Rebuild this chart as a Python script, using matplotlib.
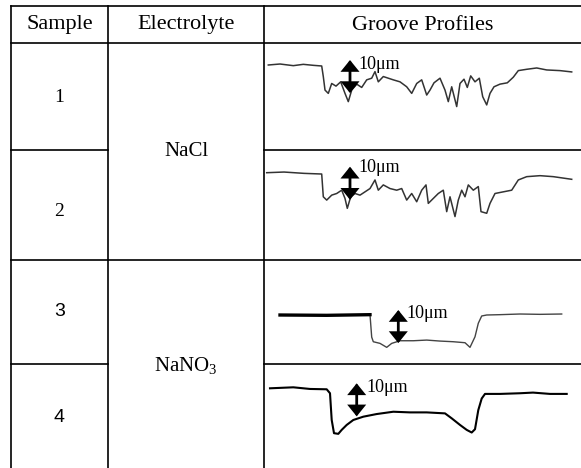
import matplotlib
matplotlib.use("Agg")
import matplotlib.pyplot as plt

plt.rcParams["mathtext.fontset"] = "custom"
plt.rcParams["mathtext.rm"] = "Liberation Serif"
plt.rcParams["mathtext.it"] = "Liberation Serif:italic"
plt.rcParams["mathtext.bf"] = "Liberation Serif:bold"

# ---------------- data ----------------
samples = ["1", "2", "3", "4"]
electrolytes = ["NaCl", "NaNO$_3$"]
headers = ["Sample", "Electrolyte", "Groove Profiles"]
scale_label = "10μm"
scale_um = 10

# lateral position (arbitrary units) and height (μm) of each groove profile
p1_pos = [4.3, 16, 29.3, 39.3, 49.3, 57.7, 59.3, 61, 64.3, 67.7, 72, 76.7, 81, 84.3, 87.7, 92.7,
          97.7, 102.7, 107.7, 111, 114.3, 119.3, 124.3, 129.3, 136, 142.7, 147.7, 152.7, 157.7,
          162.7, 166, 170, 176, 181, 184.3, 187.7, 192.7, 196, 200, 203.3, 206.7, 211, 215.3,
          218.7, 222.7, 226, 230, 236, 243.3, 249.3, 254.3, 262.7, 272.7, 282.7, 296, 307.7]
p1_h = [0, 0.3, -0.2, 0.2, -0.1, -0.3, -3.5, -7.6, -8.6, -5.6, -6.4, -5.1, -8.6, -11.1, -7.6, -5.8,
        -6.8, -4.5, -4.0, -2.0, -5.1, -3.5, -4.0, -4.5, -5.1, -6.6, -8.6, -5.6, -4.5,
        -9.1, -7.6, -5.4, -4.0, -7.6, -11.1, -6.6, -12.6, -5.6, -4.3, -6.8, -3.3, -5.1, -4.0,
        -9.6, -12.1, -8.6, -6.6, -5.8, -5.4, -3.7, -1.7, -1.3, -0.9, -1.5, -1.7, -2.1]

p2_pos = [2.7, 20, 40, 57.7, 59.3, 62.7, 67.7, 72.7, 77.7, 81, 83.3, 86.7, 91, 96, 101, 106, 111,
          114.3, 119.3, 126, 132.7, 137.7, 142.7, 147.7, 152.7, 157.7, 162, 164.3, 169.3, 174.3,
          179.3, 182.7, 186, 191, 194.3, 197.7, 201, 204.3, 209.3, 214.3, 217, 222.7, 226, 231,
          239.3, 247.7, 254.3, 262.7, 276, 289.3, 307.7]
p2_h = [0, 0.2, -0.2, -0.4, -7.3, -8.3, -6.8, -6.3, -5.3, -7.8, -10.8, -7.3, -6.3, -6.8, -5.8,
        -4.8, -2.2, -5.3, -3.7, -4.8, -5.3, -4.8, -8.3, -6.3, -8.8, -5.3, -3.7, -9.3, -7.8, -6.3,
        -5.3, -11.8, -7.3, -13.3, -8.3, -5.3, -7.3, -3.7, -5.3, -4.2, -11.8, -12.3, -9.3, -6.3,
        -5.8, -5.3, -2.2, -1.2, -0.9, -1.2, -2.0]

p3_pos = [16, 62.7, 106, 107.7, 109.3, 116, 122.7, 127.7, 136, 149.3, 162.7, 176, 189.3, 201,
          206, 211, 214.3, 217.7, 222.7, 236, 256, 276, 297.7]
p3_h = [0, -0.1, 0.1, -6.7, -8.1, -8.6, -9.8, -8.6, -7.8, -7.8, -7.6, -7.9, -8.1, -8.4,
        -9.8, -6.6, -2.5, -0.3, 0, 0.1, 0.3, 0.2, 0.3]

p4_pos = [6, 29.3, 46, 62.7, 66, 67.7, 70, 74.3, 77.7, 82.7, 89.3, 99.3, 112.7, 129.3, 146,
          162.7, 181, 187.7, 196, 202.7, 207.7, 211, 214.3, 217.7, 221, 236, 256, 269, 286, 302.7]
p4_h = [0, 0.3, -0.2, -0.3, -1.5, -9.6, -13.6, -13.8, -12.6, -11.1, -9.6, -8.6, -7.8, -7.1,
        -7.3, -7.3, -7.6, -9.1, -11.1, -12.6, -13.4, -12.4, -6.6, -3.1, -1.7, -1.7, -1.5,
        -1.3, -1.7, -1.7]

profiles = [(p1_pos, p1_h), (p2_pos, p2_h), (p3_pos, p3_h), (p4_pos, p4_h)]
# scale arrow (lateral position, top height) and label position for each profile
arrow_pos = [86, 86, 134.3, 92.7]
arrow_top = [1.5, 1.8, 1.5, 1.5]
label_pos = [94, 94, 142, 102]
label_h = [0.3, 1.5, 0.5, 0.3]

# ---------------- layout (pixels) ----------------
W, H = 581, 468
x_left, x_c1, x_c2, x_right = 11, 108, 264, 581
y_top, y_head = 6, 43
row_bounds = [(43, 150), (150, 260), (260, 364), (364, 468)]
base_px = [65, 172.7, 315, 388.3]
px_per_um = 3.3
xspan = x_right - x_c2

serif = ["Liberation Serif", "DejaVu Serif"]

fig = plt.figure(figsize=(W / 100, H / 100), dpi=100)
ax = fig.add_axes([0, 0, 1, 1])
ax.set_xlim(0, W)
ax.set_ylim(H, 0)
ax.axis("off")

lc = "black"
lw = 1.2
ax.plot([x_left, x_right], [y_top, y_top], color=lc, lw=lw)
ax.plot([x_left, x_right], [y_head, y_head], color=lc, lw=lw)
ax.plot([x_left, x_right], [260, 260], color=lc, lw=lw)
for yy in (150, 364):
    ax.plot([x_left, x_c1], [yy, yy], color=lc, lw=lw)
    ax.plot([x_c2, x_right], [yy, yy], color=lc, lw=lw)
for xx in (x_left, x_c1, x_c2):
    ax.plot([xx, xx], [y_top, H], color=lc, lw=lw)

# header text
hx = [(x_left + x_c1) / 2, (x_c1 + x_c2) / 2, (x_c2 + x_right) / 2]
for t, xx in zip(headers, hx):
    ax.text(xx, 25, t, ha="center", va="center", fontsize=16, family=serif)

num_y = [97, 211, 312, 418]
num_fam = [serif, serif, ["Liberation Sans"], ["Liberation Sans"]]
for s, yy, fam in zip(samples, num_y, num_fam):
    ax.text(hx[0], yy, s, ha="center", va="center", fontsize=14, family=fam)

ax.text(hx[1], 152, electrolytes[0], ha="center", va="center", fontsize=15, family=serif)
ax.text(hx[1], 366, electrolytes[1], ha="center", va="center", fontsize=15, family=serif)

# profile axes
for i, ((pos, h), (rt, rb), base) in enumerate(zip(profiles, row_bounds, base_px)):
    pax = fig.add_axes([x_c2 / W, 1 - rb / H, xspan / W, (rb - rt) / H])
    pax.set_xlim(0, xspan)
    pax.set_ylim(-(rb - base) / px_per_um, (base - rt) / px_per_um)
    pax.axis("off")
    if i == 2:
        pax.plot(pos, h, color="#444444", lw=1.0)
        pax.plot(pos[:3], h[:3], color="black", lw=2.4)
    elif i == 3:
        pax.plot(pos, h, color="black", lw=1.5)
    else:
        pax.plot(pos, h, color="#333333", lw=1.1)
    pax.annotate("", xy=(arrow_pos[i], arrow_top[i] - scale_um),
                 xytext=(arrow_pos[i], arrow_top[i]),
                 arrowprops=dict(arrowstyle="<|-|>,head_length=0.42,head_width=0.34",
                                 color="black", lw=2.0, joinstyle="miter",
                                 mutation_scale=14, shrinkA=0, shrinkB=0))
    pax.text(label_pos[i], label_h[i], scale_label, ha="left", va="center",
             fontsize=13, family=serif)

fig.savefig("out.png", dpi=100)
